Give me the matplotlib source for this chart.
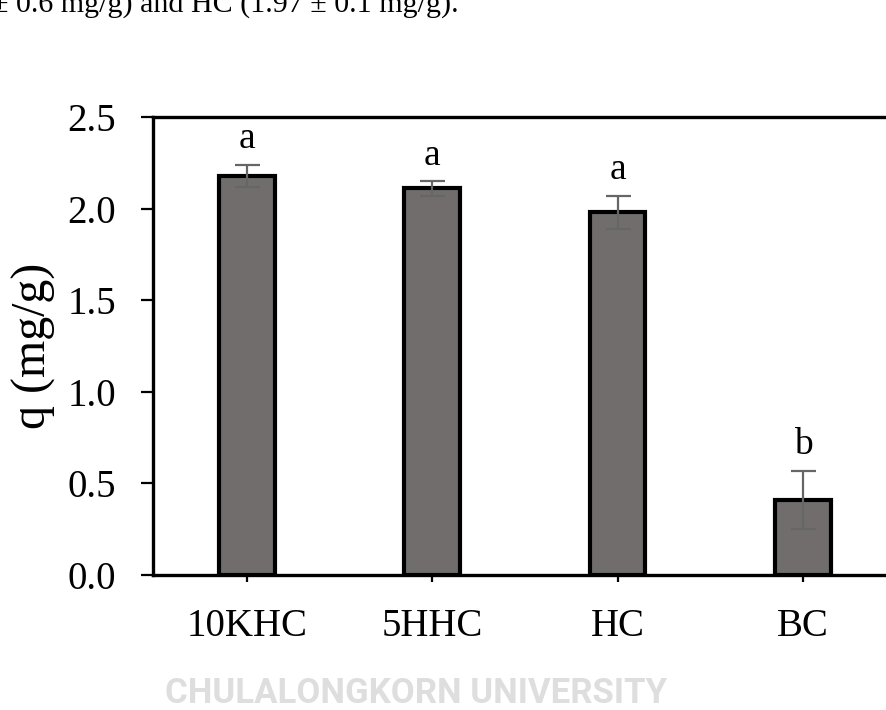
import matplotlib
matplotlib.use("Agg")
import matplotlib.pyplot as plt
import numpy as np

plt.rcParams['font.family'] = ['Liberation Serif', 'DejaVu Serif']

# data
samples = ['10KHC', '5HHC', 'HC', 'BC']
q_mean = [2.18, 2.11, 1.98, 0.41]
q_err = [0.06, 0.04, 0.09, 0.16]
groups = ['a', 'a', 'a', 'b']
yticks = [0.0, 0.5, 1.0, 1.5, 2.0, 2.5]

fig = plt.figure(figsize=(8.86, 7.10), dpi=100, facecolor='w')
ax = fig.add_axes([153 / 886, 135 / 710, 1 - 153 / 886, 458 / 710])

x = np.arange(len(samples))
ax.bar(x, q_mean, width=0.30, color='#716d6d', edgecolor='black', linewidth=3, zorder=2)
ax.errorbar(x, q_mean, yerr=q_err, fmt='none', ecolor='#666666', elinewidth=1.6,
            capsize=9, capthick=1.6, zorder=3)

for xi, m, e, g in zip(x, q_mean, q_err, groups):
    ax.text(xi, m + e + 0.09, g, ha='center', va='baseline', fontsize=27)

ax.set_xlim(-0.507, 3.448)
ax.set_ylim(0, 2.5)
ax.set_yticks(yticks)
ax.set_yticklabels(['%.1f' % v for v in yticks])
ax.set_xticks(x)
ax.set_xticklabels(samples)

for s in ['left', 'top', 'bottom']:
    ax.spines[s].set_linewidth(2.4)
ax.spines['right'].set_visible(False)
ax.tick_params(axis='y', direction='out', length=8.5, width=1.6, pad=18, labelsize=28)
ax.tick_params(axis='x', direction='out', length=5, width=1.6, pad=19, labelsize=28)

ax.set_ylabel('q (mg/g)', fontsize=34.5, va='center', ha='center')
ax.yaxis.set_label_coords(-0.162, 0.5)

# text cut from the page above the chart
fig.text(-8 / 886, 1 - 12 / 710, '\u00b1 0.6 mg/g) and HC (1.97 \u00b1 0.1 mg/g).',
         fontsize=21.6, va='baseline', ha='left')

# watermark
fig.text(416 / 886, 1 - 703 / 710, 'CHULALONGKORN UNIVERSITY', fontsize=25,
         color='#dedede', ha='center', va='baseline',
         family=['Roboto', 'DejaVu Sans'], fontweight='bold', zorder=0)

fig.savefig('out.png', dpi=100)
